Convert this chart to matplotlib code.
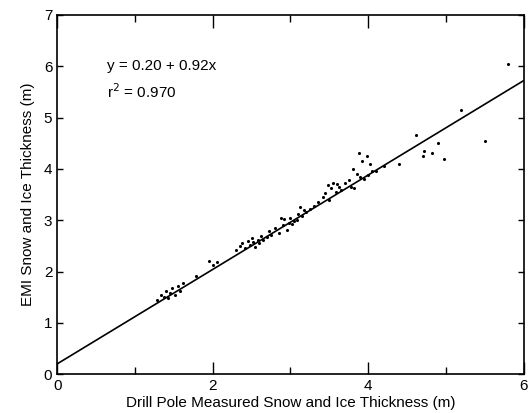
import matplotlib
matplotlib.use("Agg")
import matplotlib.pyplot as plt
from matplotlib.ticker import MultipleLocator

plt.rcParams['font.family'] = ['Liberation Sans', 'DejaVu Sans']

drill = [1.28, 1.33, 1.37, 1.40, 1.42, 1.45, 1.48, 1.52, 1.55, 1.58, 1.62,
         1.78, 1.95, 2.00, 2.05,
         2.30, 2.35, 2.38, 2.42, 2.45, 2.48, 2.50, 2.52, 2.55, 2.58, 2.60, 2.62, 2.65,
         2.70, 2.72, 2.75, 2.80, 2.85, 2.88, 2.90, 2.92, 2.95, 2.98, 3.00, 3.02, 3.05,
         3.08, 3.10, 3.12, 3.15, 3.18, 3.20, 3.25, 3.30, 3.35,
         3.42, 3.45, 3.48, 3.50, 3.52, 3.55, 3.58, 3.60, 3.62, 3.65, 3.70,
         3.75, 3.78, 3.80, 3.82, 3.85, 3.88, 3.90, 3.92, 3.95, 3.98, 4.00, 4.02, 4.05, 4.10,
         4.20, 4.40, 4.62, 4.70, 4.72, 4.82, 4.90, 4.97, 5.20, 5.50, 5.80]
emi = [1.45, 1.55, 1.50, 1.62, 1.48, 1.58, 1.68, 1.55, 1.72, 1.62, 1.78,
       1.92, 2.20, 2.12, 2.18,
       2.42, 2.50, 2.55, 2.45, 2.60, 2.52, 2.65, 2.58, 2.48, 2.62, 2.55, 2.70, 2.62,
       2.68, 2.78, 2.72, 2.85, 2.75, 3.05, 2.90, 3.02, 2.80, 2.95, 3.05, 2.92, 2.98,
       3.00, 3.12, 3.25, 3.08, 3.20, 3.15, 3.22, 3.28, 3.35,
       3.45, 3.52, 3.68, 3.40, 3.62, 3.72, 3.55, 3.70, 3.65, 3.58, 3.72,
       3.78, 3.65, 4.00, 3.62, 3.90, 4.30, 3.85, 4.15, 3.80, 4.25, 3.88, 4.10, 3.95, 3.95,
       4.05, 4.10, 4.65, 4.25, 4.35, 4.30, 4.50, 4.20, 5.15, 4.55, 6.05]

intercept = 0.20
slope = 0.92
fit_x = [0, 6]

fig = plt.figure(figsize=(5.29, 4.13), dpi=100)
ax = fig.add_axes([0.108, 0.094, 0.882, 0.870])

ax.scatter(drill, emi, s=5, color='black', zorder=3, linewidths=0)
ax.plot(fit_x, [intercept + slope * v for v in fit_x], color='black', lw=1.2)

ax.set_xlim(0, 6)
ax.set_ylim(0, 7)
ax.xaxis.set_major_locator(MultipleLocator(2))
ax.xaxis.set_minor_locator(MultipleLocator(1))
ax.yaxis.set_major_locator(MultipleLocator(1))
ax.tick_params(which='both', direction='in', top=True, right=True, labelsize=11, width=1.0)
ax.tick_params(which='major', length=9)
ax.tick_params(which='minor', length=5)
ax.tick_params(axis='y', which='major', length=4)
for s in ax.spines.values():
    s.set_linewidth(1.2)

ax.text(0.64, 6.0, 'y = 0.20 + 0.92x', fontsize=11, va='center')
ax.text(0.64, 5.5, 'r$^2$ = 0.970', fontsize=11, va='center')

ax.set_xlabel('Drill Pole Measured Snow and Ice Thickness (m)', fontsize=11, labelpad=2)
ax.set_ylabel('EMI Snow and Ice Thickness (m)', fontsize=11, labelpad=6)

fig.savefig('out.png', dpi=100)
